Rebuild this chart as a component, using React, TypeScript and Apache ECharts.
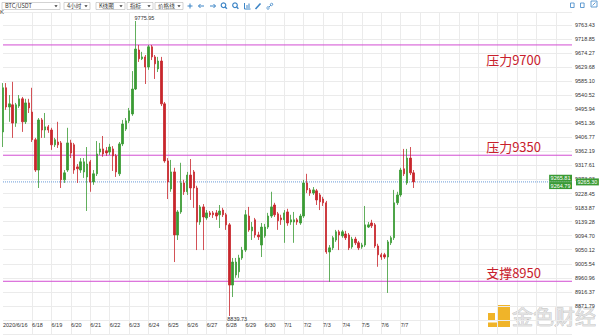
import React, { useEffect, useRef } from 'react';
import * as echarts from 'echarts';

// ---------- data ----------
const dayLabels = ['2020/6/16', '6/17', '6/18', '6/19', '6/20', '6/21', '6/22', '6/23', '6/24', '6/25', '6/26', '6/27', '6/28', '6/29', '6/30', '7/1', '7/2', '7/3', '7/4', '7/5', '7/6', '7/7', '7/8', '7/9', '7/10', '7/11', '7/12', '7/13', '7/14', '7/15', '7/16'];
const hourLabels = ['00:00', '04:00', '08:00', '12:00', '16:00', '20:00'];
const firstHourSlot = 3; // first visible candle: 2020/6/16 12:00
const slotCount = 177;

// [open, close, low, high]
const candles: number[][] = [
  [9424, 9564, 9376, 9579], [9564, 9503, 9494, 9579], [9503, 9513, 9456, 9541], [9510, 9452, 9405, 9583],
  [9452, 9510, 9440, 9516], [9506, 9529, 9500, 9541], [9529, 9456, 9424, 9535], [9456, 9516, 9449, 9529],
  [9516, 9500, 9484, 9529], [9487, 9399, 9392, 9564], [9399, 9303, 9297, 9405], [9303, 9462, 9246, 9468],
  [9462, 9430, 9405, 9468], [9430, 9440, 9405, 9484], [9440, 9430, 9421, 9446], [9430, 9383, 9367, 9437],
  [9383, 9399, 9376, 9405], [9392, 9383, 9373, 9456], [9389, 9272, 9246, 9395], [9272, 9294, 9262, 9303],
  [9303, 9389, 9297, 9437], [9389, 9357, 9341, 9399], [9383, 9303, 9291, 9389], [9313, 9307, 9262, 9322],
  [9303, 9329, 9294, 9341], [9297, 9329, 9278, 9341], [9281, 9322, 9173, 9376], [9329, 9265, 9234, 9335],
  [9265, 9291, 9256, 9303], [9291, 9354, 9284, 9395], [9360, 9370, 9351, 9389], [9370, 9354, 9345, 9411],
  [9364, 9357, 9348, 9376], [9360, 9376, 9351, 9386], [9370, 9348, 9300, 9379], [9348, 9297, 9281, 9354],
  [9291, 9386, 9284, 9392], [9386, 9449, 9379, 9462], [9433, 9459, 9427, 9468], [9459, 9491, 9452, 9500],
  [9481, 9560, 9475, 9617], [9560, 9687, 9557, 9775.95], [9684, 9656, 9646, 9700], [9656, 9662, 9652, 9678],
  [9662, 9630, 9576, 9668], [9630, 9694, 9621, 9700], [9694, 9662, 9652, 9700], [9662, 9640, 9592, 9668],
  [9624, 9649, 9614, 9662], [9649, 9513, 9506, 9662], [9513, 9332, 9326, 9519], [9332, 9265, 9211, 9341],
  [9243, 9297, 9234, 9335], [9297, 9097, 9011, 9310], [9097, 9170, 9081, 9176], [9170, 9262, 9164, 9326],
  [9262, 9234, 9224, 9272], [9234, 9287, 9224, 9297], [9287, 9246, 9208, 9338], [9297, 9246, 9183, 9303],
  [9246, 9138, 9049, 9253], [9138, 9186, 9129, 9192], [9186, 9154, 9049, 9195], [9151, 9167, 9145, 9176],
  [9167, 9161, 9154, 9173], [9167, 9161, 9151, 9173], [9167, 9157, 9145, 9176], [9161, 9173, 9119, 9192],
  [9176, 9161, 9154, 9183], [9161, 9129, 9113, 9167], [9129, 8938, 8839.73, 9135], [8938, 9011, 8900, 9024],
  [8970, 9011, 8961, 9024], [8980, 9024, 8961, 9034], [9024, 9049, 9018, 9059], [9049, 9161, 9043, 9176],
  [9157, 9113, 9107, 9186], [9110, 9122, 9081, 9138], [9145, 9097, 9088, 9151], [9097, 9091, 9081, 9107],
  [9065, 9122, 9027, 9135], [9094, 9122, 9088, 9132], [9122, 9157, 9116, 9167], [9157, 9186, 9151, 9234],
  [9192, 9161, 9154, 9199], [9164, 9142, 9113, 9170], [9151, 9145, 9129, 9161], [9145, 9167, 9072, 9176],
  [9170, 9135, 9126, 9180], [9138, 9145, 9129, 9161], [9138, 9145, 9072, 9170], [9145, 9138, 9129, 9151],
  [9135, 9157, 9129, 9164], [9157, 9262, 9151, 9272], [9262, 9240, 9230, 9291], [9240, 9230, 9221, 9246],
  [9230, 9240, 9224, 9249], [9237, 9208, 9192, 9243], [9224, 9202, 9176, 9230], [9211, 9199, 9189, 9218],
  [9199, 9043, 9037, 9205], [9043, 9056, 8948, 9065], [9056, 9088, 9049, 9094], [9081, 9107, 9075, 9113],
  [9107, 9097, 9049, 9113], [9094, 9107, 9088, 9113], [9100, 9088, 9081, 9110], [9097, 9056, 9049, 9103],
  [9059, 9084, 9053, 9091], [9084, 9072, 9065, 9091], [9072, 9056, 9049, 9078], [9059, 9065, 9053, 9072],
  [9065, 9129, 9059, 9189], [9122, 9129, 9119, 9138], [9135, 9126, 9119, 9145], [9129, 9062, 9056, 9135],
  [9062, 9034, 8996, 9069], [9034, 9027, 9018, 9040], [9034, 9027, 9021, 9040], [9027, 9075, 8913, 9081],
  [9072, 9088, 9065, 9094], [9088, 9199, 9081, 9240], [9199, 9224, 9192, 9234], [9224, 9303, 9218, 9310],
  [9307, 9291, 9284, 9370], [9262, 9341, 9256, 9370], [9341, 9294, 9287, 9376], [9294, 9265.3, 9246, 9303],
];

const yTickLabels = ['8871.79', '8916.37', '8960.96', '9005.54', '9050.12', '9094.70', '9139.28', '9183.87', '9228.45', '9273.03', '9317.61', '9362.19', '9406.77', '9451.36', '9495.94', '9540.52', '9585.10', '9629.68', '9674.27', '9718.85', '9763.43'];
const yFirstTick = 8871.79;
const yInterval = 44.582;

const levelValues = [9700, 9350, 8950];
const levelNames = ['压力9700', '压力9350', '支撑8950'];

const lastPrice = 9265.3;
const askPrice = 9265.81;
const bidPrice = 9264.79;

const toolbarSelects = ['BTC/USDT', '4小时', 'K线图', '指标', '价格线'];
const watermarkText = '金色财经';

// ---------- helpers ----------
const categories: string[] = [];
for (let i = 0; i < slotCount; i++) {
  const flat = i + firstHourSlot;
  categories.push(dayLabels[Math.floor(flat / 6)] + ' ' + hourLabels[flat % 6]);
}
const isDayStart = (i: number) => (i + firstHourSlot) % 6 === 0;
const showLabel = (i: number) => i === 0 || (i < candles.length && isDayStart(i) && Math.floor((i + firstHourSlot) / 6) >= 2);
const showSplit = (i: number) => isDayStart(i) && Math.floor((i + firstHourSlot) / 6) >= 2;

const UP = '#3a9a34';
const DOWN = '#c8262c';
const BLUE = '#3d85c6';
const MAGENTA = '#d24dd2';
const FONT = 'Liberation Sans, Arial, Noto Sans CJK SC, sans-serif';
const CJK = 'Noto Sans CJK SC, sans-serif';
const CLEAR = 'rgba(0,0,0,0)';

function buildToolbar(): any[] {
  const els: any[] = [];
  const boxes = [[2, 58], [64, 26], [96, 29], [127, 26], [155, 28]];
  toolbarSelects.forEach((t, k) => {
    const [x, w] = boxes[k];
    els.push({ type: 'rect', shape: { x, y: 2.5, width: w, height: 7 }, style: { fill: '#fff', stroke: '#b5b5b5', lineWidth: 0.6 } });
    els.push({ type: 'text', x: x + 3, y: 6.2, style: { text: t, fontSize: 5.6, fill: '#333', fontFamily: CJK, verticalAlign: 'middle' } });
    const ax = x + w - 4;
    els.push({ type: 'polygon', shape: { points: [[ax - 1.6, 5.2], [ax + 1.6, 5.2], [ax, 7.2]] }, style: { fill: '#333' } });
  });
  const st = { stroke: BLUE, lineWidth: 1, fill: 'none' };
  els.push({ type: 'line', shape: { x1: 187.5, y1: 6, x2: 192.5, y2: 6 }, style: st });
  els.push({ type: 'line', shape: { x1: 190, y1: 3.5, x2: 190, y2: 8.5 }, style: st });
  els.push({ type: 'line', shape: { x1: 198.5, y1: 6, x2: 204, y2: 6 }, style: st });
  els.push({ type: 'polyline', shape: { points: [[200.5, 4], [198.5, 6], [200.5, 8]] }, style: st });
  els.push({ type: 'line', shape: { x1: 210, y1: 6, x2: 215.5, y2: 6 }, style: st });
  els.push({ type: 'polyline', shape: { points: [[213.5, 4], [215.5, 6], [213.5, 8]] }, style: st });
  [223.5, 235].forEach((cx) => {
    els.push({ type: 'circle', shape: { cx, cy: 5.3, r: 2.3 }, style: { stroke: BLUE, lineWidth: 1.2, fill: '#fff' } });
    els.push({ type: 'line', shape: { x1: cx + 1.6, y1: 6.9, x2: cx + 3.4, y2: 8.8 }, style: { stroke: BLUE, lineWidth: 1.4 } });
  });
  els.push({ type: 'polyline', shape: { points: [[244.5, 3], [244.5, 9], [250.5, 9]] }, style: st });
  els.push({ type: 'line', shape: { x1: 247, y1: 5, x2: 247, y2: 8 }, style: st });
  els.push({ type: 'line', shape: { x1: 249, y1: 3.5, x2: 249, y2: 8 }, style: st });
  els.push({ type: 'line', shape: { x1: 255.5, y1: 9, x2: 260.5, y2: 3.5 }, style: { stroke: BLUE, lineWidth: 1.6 } });
  els.push({ type: 'line', shape: { x1: 267, y1: 9, x2: 272.5, y2: 3.5 }, style: { stroke: BLUE, lineWidth: 0.9 } });
  els.push({ type: 'circle', shape: { cx: 268, cy: 8, r: 1.2 }, style: { stroke: BLUE, lineWidth: 0.8, fill: '#fff' } });
  els.push({ type: 'circle', shape: { cx: 271.5, cy: 4.5, r: 1.2 }, style: { stroke: BLUE, lineWidth: 0.8, fill: '#fff' } });
  els.push({ type: 'rect', shape: { x: 570.5, y: 3, width: 3.6, height: 4.5 }, style: { stroke: BLUE, lineWidth: 0.8, fill: '#fff' } });
  els.push({ type: 'rect', shape: { x: 580.5, y: 3, width: 3.6, height: 4.5 }, style: { stroke: BLUE, lineWidth: 0.8, fill: '#fff' } });
  els.push({ type: 'rect', shape: { x: 591, y: 1, width: 6, height: 6 }, style: { stroke: BLUE, lineWidth: 0.8, fill: '#fff' } });
  els.push({ type: 'line', shape: { x1: 592.5, y1: 5.5, x2: 595.5, y2: 2.5 }, style: { stroke: BLUE, lineWidth: 0.8 } });
  els.push({ type: 'text', x: 0, y: 9, style: { text: 'K', fontSize: 6, fill: '#333', fontFamily: FONT } });
  return els;
}

function buildWatermark(): any[] {
  const gold = '#f0b429';
  return [
    { type: 'rect', shape: { x: 488, y: 313, width: 7, height: 7 }, style: { fill: gold } },
    { type: 'polygon', shape: { points: [[498, 305], [510, 305], [510, 327], [488, 327], [488, 322.5], [498, 322.5]] }, style: { fill: gold } },
    { type: 'text', x: 512, y: 304, style: { text: watermarkText, fontSize: 21, fill: '#e2e2e2', stroke: '#b3b3b3', lineWidth: 0.6, fontFamily: CJK } },
  ];
}

function hLine(name: string, value: number, color: string, type: string, z: number) {
  return {
    type: 'line',
    name,
    data: [[0, value], [slotCount - 1, value]],
    symbol: 'none',
    silent: true,
    z,
    lineStyle: { color, width: 1, type, opacity: 1 },
    itemStyle: { color },
  };
}

export default function App() {
  const ref = useRef<HTMLDivElement>(null);
  useEffect(() => {
    if (!ref.current) return;
    const chart = echarts.init(ref.current, undefined, { renderer: 'svg' });
    const tagLabel = {
      show: true,
      backgroundColor: UP,
      color: '#fff',
      fontSize: 5.5,
      padding: [1, 1.5, 0.5, 1.5],
      fontFamily: FONT,
      distance: 0,
    };
    const option: any = {
      animation: false,
      backgroundColor: '#fff',
      textStyle: { fontFamily: FONT },
      grid: { left: 1, right: 28, top: 12, bottom: 1 },
      xAxis: {
        type: 'category',
        data: categories,
        boundaryGap: false,
        axisLine: { show: false },
        axisTick: { show: false },
        axisLabel: {
          inside: true,
          interval: (i: number) => showLabel(i),
          formatter: (v: string) => v.split(' ')[0],
          align: 'left',
          fontSize: 5.5,
          color: '#333',
          margin: 6,
        },
        splitLine: { show: true, interval: (i: number) => showSplit(i), lineStyle: { color: '#ebebeb', width: 1 } },
      },
      yAxis: {
        type: 'value',
        position: 'right',
        scale: true,
        min: yInterval * 197,
        max: 9804.5,
        interval: yInterval,
        axisLine: { show: false },
        axisTick: { show: false },
        axisLabel: {
          margin: 3,
          fontSize: 5.5,
          color: '#333',
          showMinLabel: false,
          showMaxLabel: false,
          formatter: (v: number) => {
            const idx = Math.round((v - yFirstTick) / yInterval);
            return idx >= 0 && idx < yTickLabels.length ? yTickLabels[idx] : '';
          },
        },
        splitLine: { show: true, lineStyle: { color: '#ebebeb', width: 1 } },
      },
      series: [
        ...levelValues.map((v, k) => hLine('level' + k, v, MAGENTA, 'solid', 1)),
        hLine('lastLine', lastPrice, '#6b9bd8', 'dotted', 1),
        {
          type: 'candlestick',
          name: 'K',
          z: 3,
          data: candles,
          barWidth: 1.9,
          itemStyle: { color: UP, color0: DOWN, borderColor: UP, borderColor0: DOWN, borderWidth: 0.8 },
          markPoint: {
            symbol: 'circle',
            symbolSize: 0.01,
            itemStyle: { color: CLEAR },
            label: {
              show: true,
              fontSize: 5.5,
              color: '#333',
              formatter: (p: any) => Number(p.value).toFixed(2),
            },
            data: [
              { type: 'max', valueDim: 'highest', label: { position: [-1, -6], align: 'left', verticalAlign: 'top' } },
              { type: 'min', valueDim: 'lowest', label: { position: [-2, 0.5], align: 'left', verticalAlign: 'top' } },
            ],
          },
          markLine: {
            symbol: ['none', 'none'],
            silent: true,
            lineStyle: { color: CLEAR, width: 1, opacity: 1 },
            label: { show: true, color: '#c8202c', fontSize: 13, fontFamily: CJK, distance: 0 },
            data: [
              ...levelValues.map((v, k) => ({
                yAxis: v,
                label: {
                  position: k === 0 ? 'insideEndBottom' : 'insideEndTop',
                  formatter: levelNames[k],
                  padding: k === 0 ? [8, 31, 0, 0] : [0, 31, 2, 0],
                },
              })),
              { yAxis: lastPrice, label: { ...tagLabel, position: 'end', distance: 4, formatter: lastPrice.toFixed(2) } },
              { yAxis: askPrice, label: { ...tagLabel, position: 'insideEndTop', formatter: askPrice.toFixed(2) } },
              { yAxis: bidPrice, label: { ...tagLabel, position: 'insideEndBottom', formatter: bidPrice.toFixed(2) } },
            ],
          },
        },
      ],
      graphic: [...buildToolbar(), ...buildWatermark()],
    };
    chart.setOption(option);
    return () => chart.dispose();
  }, []);
  return <div ref={ref} style={{ position: 'fixed', left: 0, top: 0, width: 600, height: 335, background: '#fff' }} />;
}
